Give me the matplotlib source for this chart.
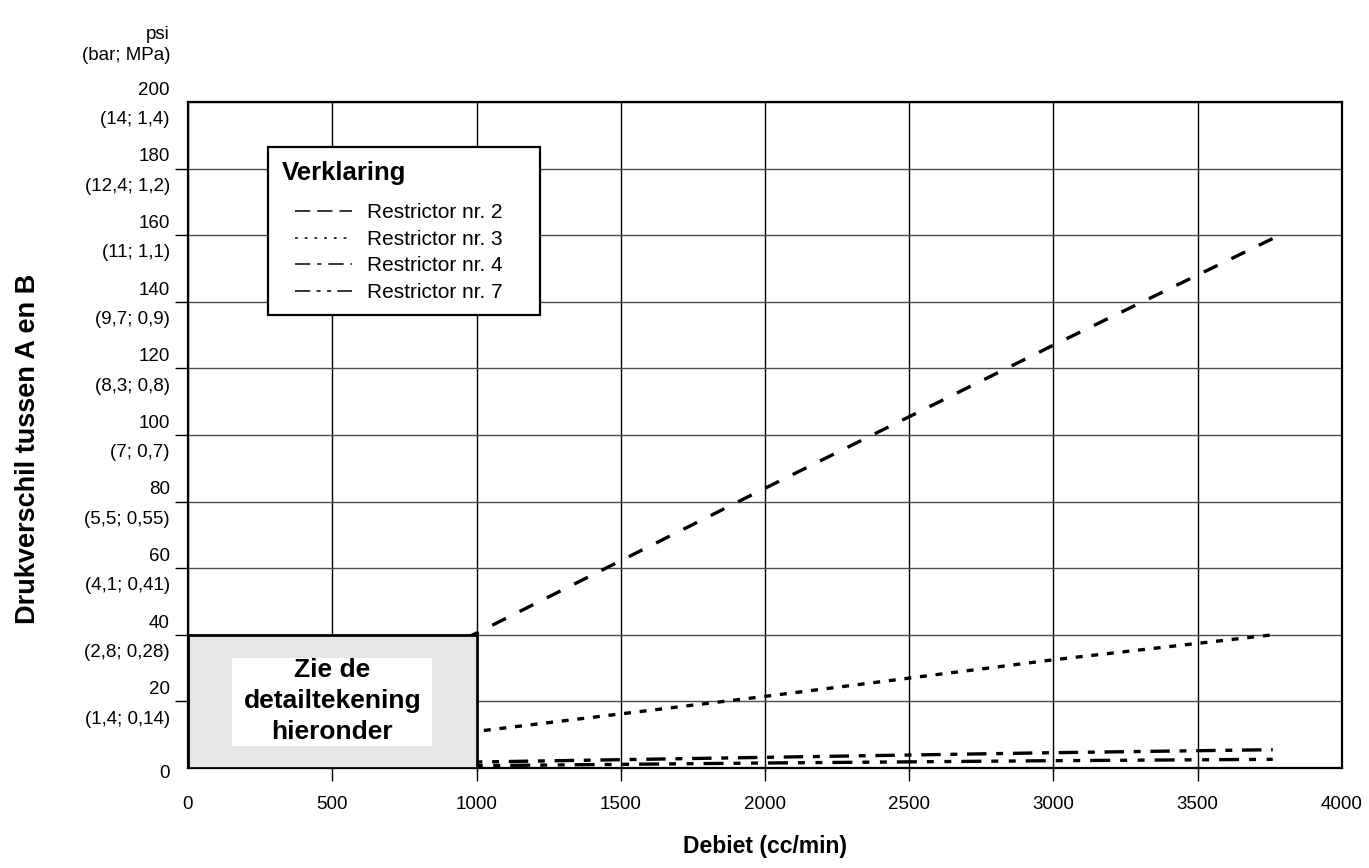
import matplotlib
matplotlib.use('Agg')
import matplotlib.pyplot as plt
from matplotlib.lines import Line2D
from matplotlib.patches import Rectangle
from matplotlib.offsetbox import DrawingArea
from matplotlib.transforms import ScaledTranslation

# values (psi vs cc/min)
debiet = [0, 1000, 2000, 3000, 3760]
restr2 = [0, 40.5, 84, 127, 159]
restr3 = [0, 11, 21.5, 32.5, 40]
restr4 = [0, 1.8, 3.2, 4.6, 5.5]
restr7 = [0, 0.7, 1.5, 2.2, 2.6]

names = ["Restrictor nr. 2", "Restrictor nr. 3", "Restrictor nr. 4", "Restrictor nr. 7"]

y_ticks = [0, 20, 40, 60, 80, 100, 120, 140, 160, 180, 200]
y_labels = ["0", "20\n(1,4; 0,14)", "40\n(2,8; 0,28)", "60\n(4,1; 0,41)", "80\n(5,5; 0,55)",
            "100\n(7; 0,7)", "120\n(8,3; 0,8)", "140\n(9,7; 0,9)", "160\n(11; 1,1)",
            "180\n(12,4; 1,2)", "200\n(14; 1,4)"]
x_ticks = [0, 500, 1000, 1500, 2000, 2500, 3000, 3500, 4000]

plt.rcParams['font.family'] = ['Liberation Sans', 'DejaVu Sans']
plt.rcParams['lines.scale_dashes'] = False

fig = plt.figure(figsize=(13.69, 8.68), dpi=100)
ax = fig.add_axes([188/1369, 1-768/868, 1154/1369, 666/868])

# line styles (plot, legend)
styles = [
    ((0, (11, 11)), (0, (11, 5))),
    ((0, (5, 6.3)), (0, (2, 5))),
    ((0, (14, 7, 5, 7)), (0, (11, 5, 3, 5))),
    ((0, (14.4, 7.2, 5, 7.6, 5, 7.2)), (0, (11, 4.5, 3, 4.5, 3, 4.5))),
]

for ys, st in zip([restr2, restr3, restr4, restr7], styles):
    ax.plot(debiet, ys, color='black', lw=2.4, linestyle=st[0],
            dash_capstyle='butt', zorder=3)

ax.set_xlim(0, 4000)
ax.set_ylim(0, 200)
ax.set_xticks(x_ticks)
ax.set_yticks(y_ticks)
ax.set_yticklabels(y_labels)

ax.xaxis.grid(True, color='black', lw=1.0)
ax.yaxis.grid(True, color='0.3', lw=1.0)
ax.set_axisbelow(True)
ax.tick_params(axis='both', direction='out', length=9.5, width=1.0, color='black',
               labelsize=13.5)
ax.tick_params(axis='y', pad=3.5)
ax.tick_params(axis='x', pad=10.5)
for t in [ax.xaxis.get_major_ticks()[0], ax.xaxis.get_major_ticks()[-1],
          ax.yaxis.get_major_ticks()[0], ax.yaxis.get_major_ticks()[-1]]:
    t.tick1line.set_visible(False)
for sp in ax.spines.values():
    sp.set_linewidth(1.6)

# two-line y labels: number above, (bar; MPa) below the grid line
for i, lbl in enumerate(ax.get_yticklabels()):
    lbl.set_multialignment('right')
    lbl.set_linespacing(1.95)
    lbl.set_va('center')
    dy = -6 if i == 0 else -3
    lbl.set_transform(lbl.get_transform() + ScaledTranslation(0, dy / 100, fig.dpi_scale_trans))

# gray box covering the low range
ax.add_patch(Rectangle((0, 0), 1000, 40, facecolor='#e6e6e6', edgecolor='black',
                       lw=2.0, zorder=4))
ax.add_patch(Rectangle((152, 6.6), 694, 26.4, facecolor='white', edgecolor='none',
                       zorder=5))
ax.text(500, 20.2, "Zie de\ndetailtekening\nhieronder", ha='center', va='center',
        fontsize=19, fontweight='bold', linespacing=1.38, zorder=6)

handles = [Line2D([], [], color='black', lw=1.1, linestyle=st[1], dash_capstyle='butt')
           for st in styles]
leg = ax.legend(handles, names, title="Verklaring", loc='upper left',
                bbox_to_anchor=(0.0693, 0.9324), borderaxespad=0, fontsize=15,
                title_fontproperties={'weight': 'bold', 'size': 18.5}, alignment='left',
                handlelength=2.7, handletextpad=0.75, labelspacing=0.36, borderpad=0.65,
                fancybox=False, framealpha=1, edgecolor='black')
leg.get_frame().set_linewidth(1.6)
leg.set_zorder(7)
# indent the entries under the title and widen the box a bit
try:
    hb = leg._legend_handle_box
    hb._children.insert(0, DrawingArea(10, 1))
    hb._children.append(DrawingArea(17, 3))
    hb.sep = 0
    leg._legend_box.sep = 13.5
except Exception:
    pass

ax.set_xlabel("Debiet (cc/min)", fontsize=16.5, fontweight='bold', va='top')
ax.xaxis.set_label_coords(0.5, -0.1)
ax.set_ylabel("Drukverschil tussen A en B", fontsize=19.5, fontweight='bold')
ax.yaxis.set_label_coords(-0.1273, 0.479)
fig.text(170/1369, 1-45/868, "psi\n(bar; MPa)", ha='right', va='center',
         multialignment='right', fontsize=13.5, linespacing=1.3)

fig.savefig("out.png", dpi=100)
